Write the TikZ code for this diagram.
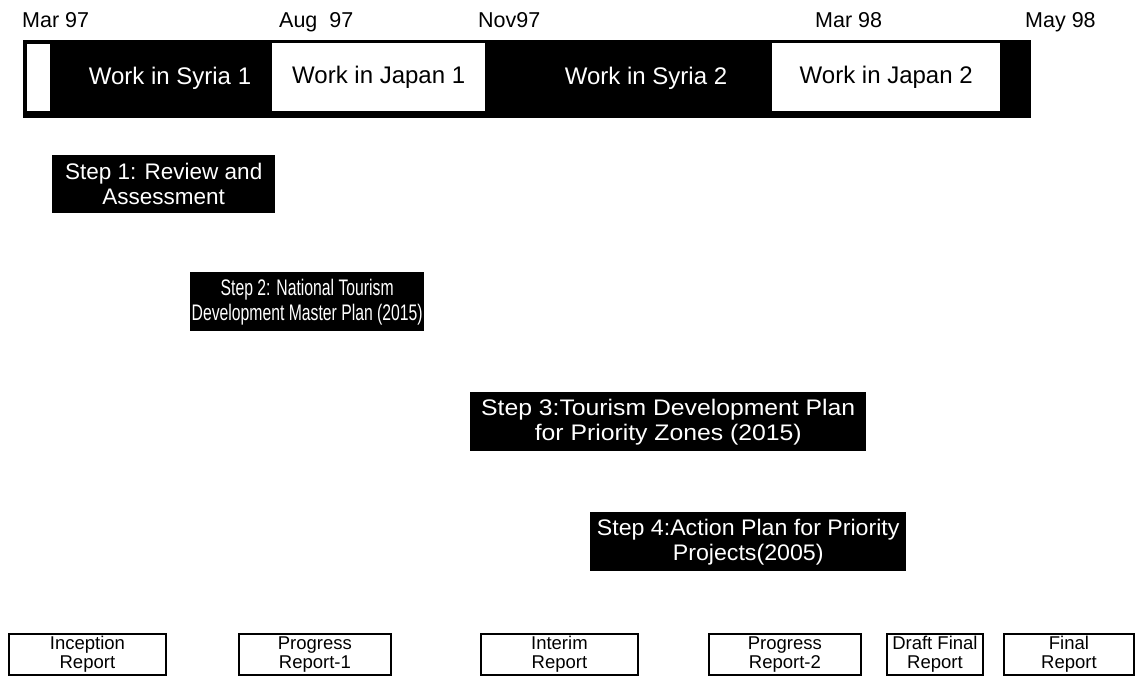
\documentclass[tikz,border=0pt]{standalone}
\usepackage{fontspec}
\setmainfont{Liberation Sans}
\usepackage{graphicx}
\newcommand{\hsc}[2]{\scalebox{#1}[1]{#2}}
\begin{document}
\begin{tikzpicture}[x=1pt,y=-1pt,
  datelbl/.style={anchor=base west,inner sep=0pt,font=\fontsize{21.5}{24}\selectfont},
  barbox/.style={fill=black,draw=black,inner sep=0pt,anchor=north west},
  whitebox/.style={fill=white,draw=none,inner sep=0pt,anchor=north west,text=black,font=\fontsize{24}{26}\selectfont},
  syrialbl/.style={text=white,inner sep=0pt,font=\fontsize{24}{26}\selectfont},
  stepbox/.style={fill=black,text=white,inner sep=0pt,anchor=north west,align=center,font=\fontsize{22.5}{25}\selectfont},
  reportbox/.style={draw=black,line width=1.8pt,fill=white,inner sep=0pt,anchor=north west,align=center,font=\fontsize{18.5}{19}\selectfont}
]
\useasboundingbox[fill=white] (0,0) rectangle (1139,676);
% dates
\node[datelbl] (d1) at (22,28) {Mar 97};
\node[datelbl] (d2) at (279,28) {Aug\ \ 97};
\node[datelbl] (d3) at (478,28) {Nov97};
\node[datelbl] (d4) at (815,28) {Mar 98};
\node[datelbl] (d5) at (1025,28) {May 98};
% bar
\node[barbox,minimum width=1007pt,minimum height=77pt] (bar) at (23,40) {};
\node[whitebox,minimum width=23pt,minimum height=67pt] (strip) at (27,44) {};
\node[syrialbl] (syria1) at (170,78) {Work in Syria 1};
\node[whitebox,minimum width=213pt,minimum height=68pt] (japan1) at (272,43) {Work in Japan 1};
\node[syrialbl] (syria2) at (646,78) {Work in Syria 2};
\node[whitebox,minimum width=228pt,minimum height=68pt] (japan2) at (772,43) {Work in Japan 2};
% steps
\node[stepbox,minimum width=223pt,minimum height=58pt] (s1) at (52,155) {Step 1: Review and\\Assessment};
\node[stepbox,minimum width=234pt,minimum height=59pt] (s2) at (190,272) {\hsc{0.7}{Step 2: National Tourism}\\\hsc{0.7}{Development Master Plan (2015)}};
\node[stepbox,minimum width=396pt,minimum height=59pt] (s3) at (470,392) {\hsc{1.1}{Step 3:Tourism Development Plan}\\\hsc{1.1}{for Priority Zones (2015)}};
\node[stepbox,minimum width=316pt,minimum height=59pt] (s4) at (590,512) {\hsc{1.03}{Step 4:Action Plan for Priority}\\\hsc{1.03}{Projects(2005)}};
% reports
\node[reportbox,minimum width=157pt,minimum height=41pt] (r1) at (8,633) {Inception\\Report};
\node[reportbox,minimum width=152pt,minimum height=41pt] (r2) at (238,633) {Progress\\Report-1};
\node[reportbox,minimum width=157pt,minimum height=41pt] (r3) at (480,633) {Interim\\Report};
\node[reportbox,minimum width=152pt,minimum height=41pt] (r4) at (708,633) {Progress\\Report-2};
\node[reportbox,minimum width=96pt,minimum height=41pt] (r5) at (886,633) {Draft Final\\Report};
\node[reportbox,minimum width=130pt,minimum height=41pt] (r6) at (1003,633) {Final\\Report};
\end{tikzpicture}
\end{document}
